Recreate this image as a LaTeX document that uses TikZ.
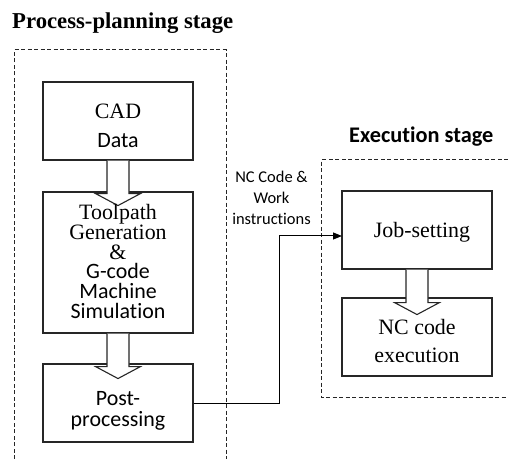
\documentclass[tikz,border=0pt]{standalone}
\usepackage{fontspec}
\setmainfont{Liberation Serif}
\newfontfamily\calib[Ligatures=NoCommon]{Carlito}
\usetikzlibrary{arrows.meta}
\begin{document}
\begin{tikzpicture}[x=1bp,y=-1bp,
  box/.style={draw=black!85, line width=1.1bp, minimum width=150bp, minimum height=78bp, inner sep=0pt},
  txt/.style={align=center, inner sep=0pt, font=\fontsize{22}{20}\selectfont},
  stage/.style={draw=black!85, line width=1bp, dash pattern=on 4bp off 2.5bp},
  link/.style={line width=1bp, -{Triangle[length=9bp,width=7bp]}},
  harrow/.pic={\draw[draw=black!85, line width=1.1bp, fill=white, line join=miter]
     (-11,0) -- (-11,33) -- (-22.5,33) -- (0,45) -- (22.5,33) -- (11,33) -- (11,0);}]
\useasboundingbox (0,0) rectangle (508,459);
% titles
\node[anchor=base west, inner sep=0pt, font=\fontsize{22.8}{24}\selectfont\bfseries] (t1) at (12,29) {Process-planning stage};
\node[anchor=base west, inner sep=0pt, font=\calib\fontsize{22.4}{24}\selectfont\bfseries] (t2) at (349,143) {Execution stage};
% stage frames
\draw[stage] (14,459) -- (14,50) -- (226,50) -- (226,459);
\draw[stage] (508,160) -- (321,160) -- (321,397) -- (508,397);
% boxes
\node[box] (cad) at (118,121) {};
\node[box, minimum height=141bp] (tool) at (118,262.5) {};
\node[box] (post) at (118,403) {};
\node[box] (job) at (417,230) {};
\node[box] (nc) at (417,337) {};
% hollow arrows
\pic at (cad.south) {harrow};
\pic at (tool.south) {harrow};
\pic at (job.south) {harrow};
% texts
\node[txt, font=\fontsize{22}{29}\selectfont] (cadt) at (118,125.5) {CAD\\{\calib Data}};
\node[txt] (toolt) at (118,261.5) {Toolpath\\Generation\\\&\\{\calib G-code}\\{\calib Machine}\\{\calib Simulation}};
\node[txt, font=\calib\fontsize{22}{21}\selectfont] (postt) at (118,411) {Post-\\processing};
\node[txt] (jobt) at (422,232) {Job-setting};
\node[txt, font=\fontsize{22}{29}\selectfont] (nct) at (417,341) {NC code\\execution};
\node[txt, font=\calib\fontsize{16.5}{21}\selectfont] (lab) at (271.5,197.5) {NC Code \&\\Work\\instructions};
% connector
\coordinate (bend) at (279,236);
\coordinate (jin) at (342,236);
\draw[link] (post.east) -| (bend) -- (jin);
\end{tikzpicture}
\end{document}
